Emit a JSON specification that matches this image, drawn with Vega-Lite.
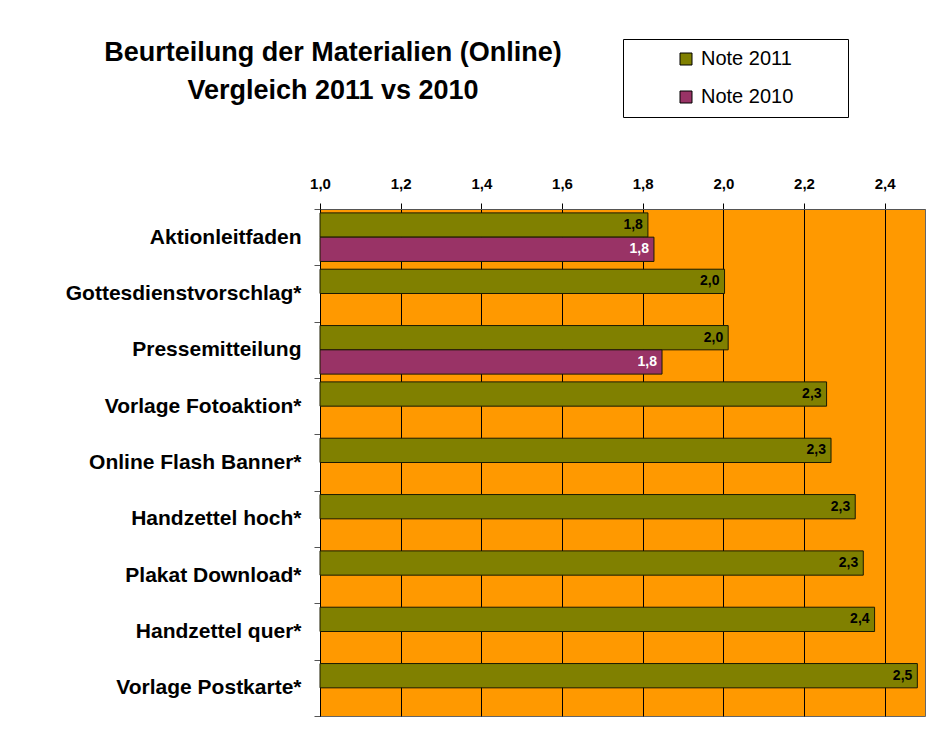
{
  "$schema": "https://vega.github.io/schema/vega-lite/v6.json",
  "width": 605,
  "height": 507,
  "autosize": "none",
  "padding": {"left": 320, "top": 209, "right": 1, "bottom": 15},
  "background": "white",
  "title": {
    "text": ["Beurteilung der Materialien (Online)", "Vergleich 2011 vs 2010"],
    "anchor": "start",
    "frame": "group",
    "align": "center",
    "dx": 13,
    "offset": -66,
    "font": "Liberation Sans",
    "fontSize": 27,
    "fontWeight": "bold",
    "lineHeight": 38,
    "color": "black"
  },
  "data": {
    "values": [
      {"item": "Aktionleitfaden", "series": "Note 2011", "value": 1.813},
      {"item": "Aktionleitfaden", "series": "Note 2010", "value": 1.828},
      {"item": "Gottesdienstvorschlag*", "series": "Note 2011", "value": 2.003},
      {"item": "Pressemitteilung", "series": "Note 2011", "value": 2.012},
      {"item": "Pressemitteilung", "series": "Note 2010", "value": 1.848},
      {"item": "Vorlage Fotoaktion*", "series": "Note 2011", "value": 2.256},
      {"item": "Online Flash Banner*", "series": "Note 2011", "value": 2.267},
      {"item": "Handzettel hoch*", "series": "Note 2011", "value": 2.327},
      {"item": "Plakat Download*", "series": "Note 2011", "value": 2.347},
      {"item": "Handzettel quer*", "series": "Note 2011", "value": 2.375},
      {"item": "Vorlage Postkarte*", "series": "Note 2011", "value": 2.481}
    ]
  },
  "encoding": {
    "y": {
      "field": "item",
      "type": "nominal",
      "sort": null,
      "title": null,
      "scale": {"paddingInner": 0, "paddingOuter": 0},
      "axis": {
        "orient": "left",
        "tickBand": "extent",
        "tickSize": 6,
        "tickColor": "#555555",
        "domainColor": "black",
        "labelFont": "Liberation Sans",
        "labelFontSize": 21,
        "labelFontWeight": "bold",
        "labelColor": "black",
        "labelPadding": 13,
        "labelLimit": 400,
        "grid": false
      }
    },
    "yOffset": {
      "field": "series",
      "type": "nominal",
      "sort": ["Note 2011", "Note 2010"],
      "scale": {"paddingInner": 0, "paddingOuter": 0.16}
    },
    "x": {
      "field": "value",
      "type": "quantitative",
      "title": null,
      "scale": {"domain": [1, 2.5], "zero": false, "nice": false},
      "axis": {
        "orient": "top",
        "values": [1, 1.2, 1.4, 1.6, 1.8, 2.0, 2.2, 2.4],
        "format": ".1f",
        "labelFlush": false,
        "grid": true,
        "gridColor": "black",
        "gridOpacity": 1,
        "gridWidth": 1,
        "tickColor": "black",
        "tickSize": 6,
        "domainColor": "#555555",
        "labelFont": "Liberation Sans",
        "labelFontSize": 15,
        "labelFontWeight": "bold",
        "labelColor": "black",
        "labelPadding": 12
      }
    }
  },
  "layer": [
    {
      "mark": {"type": "bar", "stroke": "#1a1a00", "strokeWidth": 1},
      "encoding": {
        "x2": {"datum": 1},
        "color": {
          "field": "series",
          "type": "nominal",
          "sort": ["Note 2011", "Note 2010"],
          "scale": {"domain": ["Note 2011", "Note 2010"], "range": ["#808000", "#993366"]},
          "legend": {
            "title": null,
            "orient": "none",
            "legendX": 303,
            "legendY": -170,
            "direction": "vertical",
            "fillColor": "white",
            "strokeColor": "black",
            "padding": 10,
            "symbolType": "square",
            "symbolSize": 144,
            "symbolStrokeColor": "black",
            "symbolStrokeWidth": 1,
            "symbolOffset": 43,
            "labelOffset": 5,
            "labelFont": "Liberation Sans",
            "labelFontSize": 20,
            "labelColor": "black",
            "rowPadding": 18,
            "labelExpr": "datum.label + '\u00a0\u00a0\u00a0\u00a0\u00a0\u00a0\u00a0\u00a0\u200b'"
          }
        }
      }
    },
    {
      "mark": {
        "type": "text",
        "align": "right",
        "baseline": "middle",
        "dx": -5,
        "font": "Liberation Sans",
        "fontSize": 14,
        "fontWeight": "bold"
      },
      "encoding": {
        "text": {"field": "value", "type": "quantitative", "format": ".1f"},
        "color": {
          "condition": {"test": "datum.series === 'Note 2010'", "value": "white"},
          "value": "black"
        }
      }
    }
  ],
  "config": {
    "locale": {
      "number": {"decimal": ",", "thousands": ".", "grouping": [3], "currency": ["", " €"]}
    },
    "view": {"fill": "#FF9900", "stroke": "#666666", "strokeWidth": 1}
  }
}
